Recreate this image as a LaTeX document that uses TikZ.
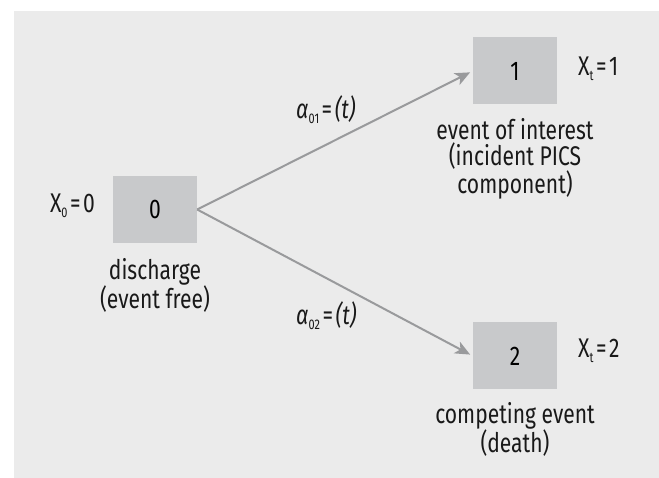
\documentclass[tikz,border=0pt]{standalone}
\usepackage{fontspec}
\setmainfont{Fira Sans}[FakeStretch=0.78]
\usetikzlibrary{arrows.meta}
\definecolor{bgc}{HTML}{EBEBEB}
\definecolor{boxc}{HTML}{C8C9CB}
\definecolor{arrc}{HTML}{999A9C}
\newcommand\lowsub[1]{\raisebox{-5pt}{\fontsize{14}{14}\selectfont #1}}
\tikzset{
  statebox/.style={fill=boxc, draw=none, minimum width=84pt, minimum height=67pt, inner sep=0pt, font=\fontsize{27}{30}\selectfont},
  lbl/.style={font=\fontsize{27}{26.5}\selectfont, inner sep=0pt, align=center, text=black!90},
  arr/.style={draw=arrc, line width=2pt, -{Stealth[length=15pt,width=13pt,inset=4pt]}, shorten >=3pt}
}
\begin{document}
\begin{tikzpicture}[x=1pt,y=-1pt]
\useasboundingbox (0,0) rectangle (659,478);
\fill[bgc] (14,11) rectangle (659,478);
\node[statebox] (b0) at (155,209.5) {0};
\node[statebox] (b1) at (515,71) {1};
\node[statebox] (b2) at (515,356) {2};
\draw[arr] (b0.east) -- (b1.west);
\draw[arr] (b0.east) -- (b2.west);
\node[lbl, anchor=east] (x0) at (95,206) {X\lowsub{0}\kern2.5pt=\kern2.5pt0};
\node[lbl, anchor=west] (x1) at (578,69) {X\lowsub{t}\kern2.5pt=\kern2.5pt1};
\node[lbl, anchor=west] (x2) at (578,351) {X\lowsub{t}\kern2.5pt=\kern2.5pt2};
\node[lbl, anchor=north] (d0) at (155,258) {discharge\\(event free)};
\node[lbl, anchor=north] (d1) at (515,118) {event of interest\\(incident PICS\\component)};
\node[lbl, anchor=north] (d2) at (515,402) {competing event\\(death)};
\node[lbl, anchor=west] (a1) at (296,110) {\textit{α}\lowsub{01}\kern2.5pt=\kern2.5pt\textit{(t)}};
\node[lbl, anchor=west] (a2) at (296,316) {\textit{α}\lowsub{02}\kern2.5pt=\kern2.5pt\textit{(t)}};
\end{tikzpicture}
\end{document}
